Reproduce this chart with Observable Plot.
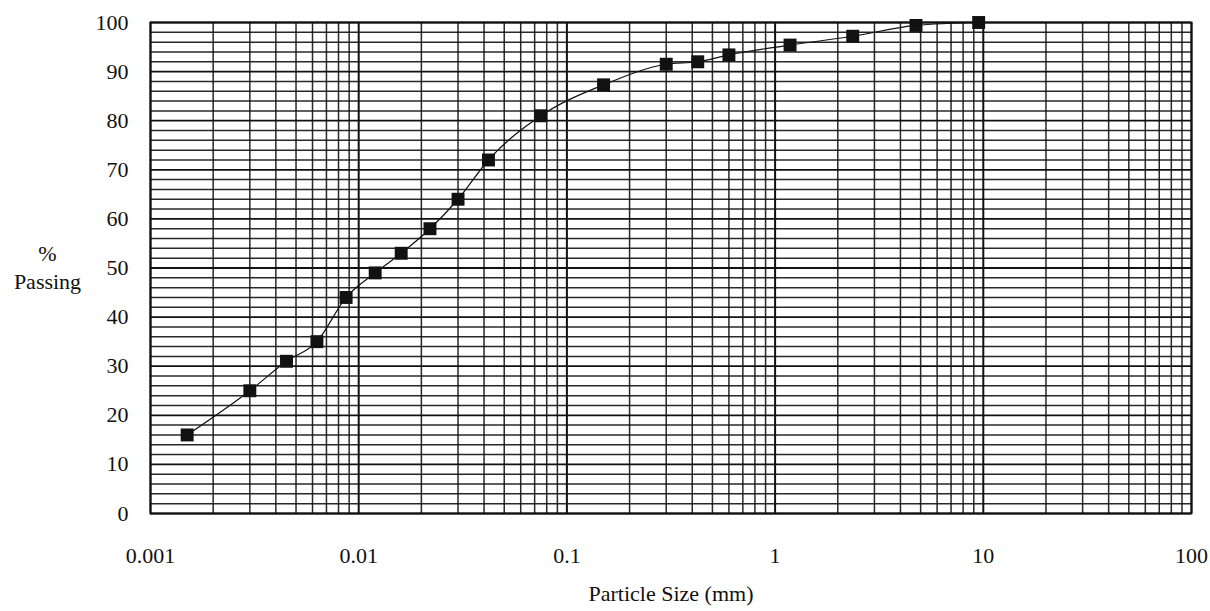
<!DOCTYPE html>
<html>
<head>
<meta charset="utf-8">
<script src="https://cdn.jsdelivr.net/npm/d3@7"></script>
<script src="https://cdn.jsdelivr.net/npm/@observablehq/plot@0.6"></script>
<style>
  html, body { margin: 0; padding: 0; background: #fff; }
  #chart svg { display: block; }
</style>
</head>
<body>
<div id="chart"></div>
<script>
// Particle size (mm) and percent passing
const sizes   = [0.0015, 0.003, 0.0045, 0.0063, 0.0087, 0.012, 0.016, 0.022, 0.030, 0.042, 0.075, 0.15, 0.30, 0.425, 0.60, 1.18, 2.36, 4.75, 9.5];
const passing = [16, 25, 31, 35, 44, 49, 53, 58, 64, 72, 81, 87.3, 91.5, 92, 93.4, 95.4, 97.2, 99.4, 100];
const xTicks = [0.001, 0.01, 0.1, 1, 10, 100];
const xTickLabels = ["0.001", "0.01", "0.1", "1", "10", "100"];
const yTicks = [0, 10, 20, 30, 40, 50, 60, 70, 80, 90, 100];

const data = sizes.map((s, i) => ({size: s, pass: passing[i]}));

// grid positions derived from the tick arrays
const xMinor = d3.range(xTicks.length - 1).flatMap(i => d3.range(2, 10).map(k => k * xTicks[i]));
const yMinor = d3.range(0, 101, 2).filter(v => v % 10 !== 0);

const font = "'Liberation Serif', 'Times New Roman', serif";
const fs = 22;

const chart = Plot.plot({
  width: 1210,
  height: 611,
  marginLeft: 150,
  marginRight: 19,
  marginTop: 22,
  marginBottom: 98,
  style: {fontFamily: font, fontSize: fs + "px", color: "#111", background: "#fff"},
  x: {type: "log", domain: [0.001, 100]},
  y: {domain: [0, 100]},
  marks: [
    Plot.gridY(yMinor, {stroke: "#111", strokeOpacity: 0.9, strokeWidth: 1.5}),
    Plot.gridY(yTicks, {stroke: "#111", strokeOpacity: 1, strokeWidth: 1.8}),
    Plot.gridX(xMinor, {stroke: "#111", strokeOpacity: 0.9, strokeWidth: 1.5}),
    Plot.gridX(xTicks, {stroke: "#111", strokeOpacity: 1, strokeWidth: 2}),
    Plot.frame({stroke: "#111", strokeWidth: 1.8}),
    Plot.axisX(xTicks, {tickSize: 0, tickPadding: 34, tickFormat: d => xTickLabels[xTicks.indexOf(d)], fontSize: fs, label: null}),
    Plot.axisY(yTicks, {tickSize: 0, tickPadding: 22, fontSize: fs, label: null}),
    Plot.line(data, {x: "size", y: "pass", stroke: "#111", strokeWidth: 1.2, curve: "monotone-x"}),
    Plot.dot(data, {x: "size", y: "pass", symbol: "square", fill: "#111", stroke: "none", r: 7.3}),
    Plot.text(["%"], {frameAnchor: "left", dx: -103, dy: -14, text: d => d, fontSize: fs, textAnchor: "middle", fill: "#111"}),
    Plot.text(["Passing"], {frameAnchor: "left", dx: -103, dy: 14, text: d => d, fontSize: fs, textAnchor: "middle", fill: "#111"}),
    Plot.text(["Particle Size (mm)"], {frameAnchor: "bottom", dy: 87, text: d => d, fontSize: fs, fill: "#111"})
  ]
});
document.getElementById("chart").append(chart);
</script>
</body>
</html>
